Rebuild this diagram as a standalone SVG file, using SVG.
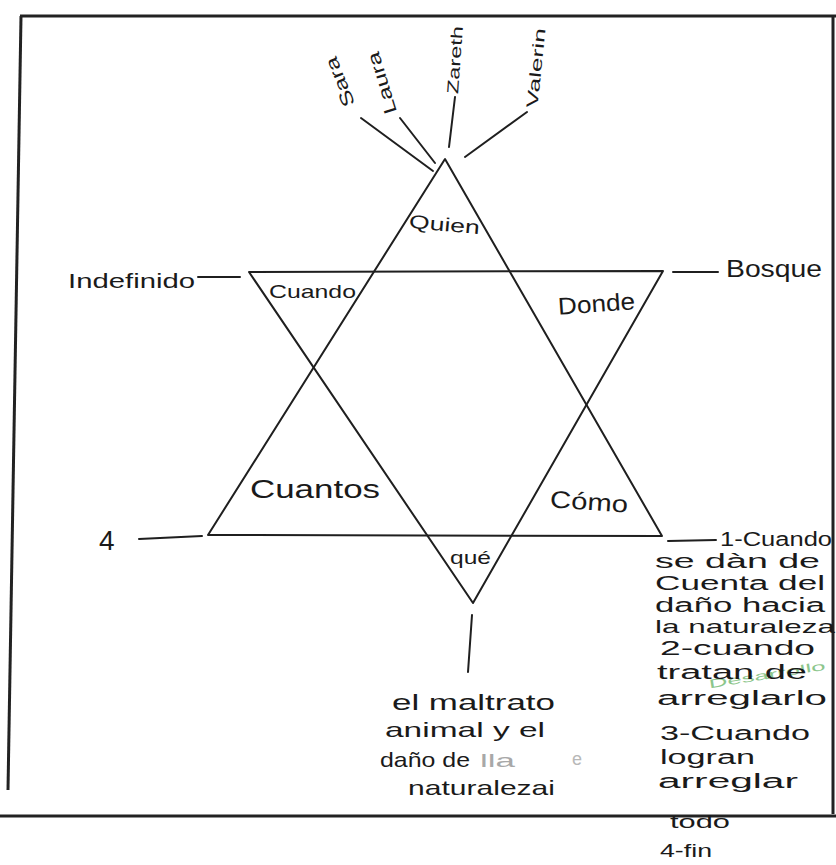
<svg xmlns="http://www.w3.org/2000/svg" width="836" height="865" viewBox="0 0 836 865">
<style>
.t{font-family:"Liberation Sans","DejaVu Sans",sans-serif;fill:#1a1a1a}
.r{font-size:20px}
.ln{stroke:#1f1f1f;stroke-width:2;fill:none;stroke-linecap:round;stroke-linejoin:round}
.bd{stroke:#222;stroke-width:3;fill:none}
</style>
<rect width="836" height="865" fill="#fff"/>
<g id="frame">
<line class="bd" x1="20" y1="16" x2="836" y2="16"/>
<line class="bd" x1="21" y1="16" x2="8" y2="790"/>
<line class="bd" x1="833" y1="16" x2="833" y2="814"/>
<line class="bd" x1="0" y1="816" x2="836" y2="816"/>
</g>
<g id="star">
<polygon id="triangle-up" class="ln" points="445,159 208,535 662,536"/>
<polygon id="triangle-down" class="ln" points="249,272 663,271 473,603"/>
</g>
<g id="connectors">
<line class="ln" x1="361" y1="118" x2="433" y2="171"/>
<line class="ln" x1="400" y1="118" x2="435" y2="163"/>
<line class="ln" x1="455" y1="97" x2="449" y2="147"/>
<line class="ln" x1="527" y1="112" x2="465" y2="157"/>
<line class="ln" x1="198" y1="277" x2="240" y2="277"/>
<line class="ln" x1="673" y1="272" x2="718" y2="272"/>
<line class="ln" x1="139" y1="539" x2="202" y2="536"/>
<line class="ln" x1="668" y1="541" x2="716" y2="540" stroke-width="3"/>
<line class="ln" x1="472" y1="615" x2="468" y2="672"/>
</g>
<g id="labels-inner">
<text id="quien" class="t" x="409" y="231" font-size="19" textLength="71" lengthAdjust="spacingAndGlyphs" transform="rotate(5 445 225)">Quien</text>
<text id="cuando" class="t" x="269" y="298" font-size="19" textLength="87" lengthAdjust="spacingAndGlyphs">Cuando</text>
<text id="donde" class="t" x="558" y="312" font-size="24" textLength="77" lengthAdjust="spacingAndGlyphs" transform="rotate(-4 597 305)">Donde</text>
<text id="cuantos" class="t" x="250" y="498" font-size="26" textLength="130" lengthAdjust="spacingAndGlyphs">Cuantos</text>
<text id="como" class="t" x="550" y="510" font-size="24" textLength="78" lengthAdjust="spacingAndGlyphs" transform="rotate(4 589 503)">Cómo</text>
<text id="que" class="t" x="450" y="564" font-size="19" textLength="41" lengthAdjust="spacingAndGlyphs">qué</text>
</g>
<g id="names">
<text class="t" x="340" y="82" font-size="18" text-anchor="middle" dominant-baseline="central" textLength="52" lengthAdjust="spacingAndGlyphs" transform="rotate(-112 340 82)">Sara</text>
<text class="t" x="382" y="83" font-size="18" text-anchor="middle" dominant-baseline="central" textLength="64" lengthAdjust="spacingAndGlyphs" transform="rotate(-107 382 83)">Laura</text>
<text class="t" x="455" y="60" font-size="16" text-anchor="middle" dominant-baseline="central" textLength="68" lengthAdjust="spacingAndGlyphs" transform="rotate(-86 455 60)">Zareth</text>
<text class="t" x="536" y="68" font-size="16" text-anchor="middle" dominant-baseline="central" textLength="80" lengthAdjust="spacingAndGlyphs" transform="rotate(-84 536 68)">Valerin</text>
</g>
<g id="indefinido"><text class="t" x="68" y="288" font-size="21" textLength="127" lengthAdjust="spacingAndGlyphs">Indefinido</text></g>
<g id="bosque"><text class="t" x="726" y="277" font-size="24" textLength="96" lengthAdjust="spacingAndGlyphs">Bosque</text></g>
<g id="cuatro"><text class="t" x="99" y="550" font-size="28">4</text></g>
<g id="que-answer">
<text class="t" x="392" y="710" font-size="22" textLength="163" lengthAdjust="spacingAndGlyphs">el maltrato</text>
<text class="t" x="385" y="737" font-size="21" textLength="160" lengthAdjust="spacingAndGlyphs">animal y el</text>
<text class="t" x="380" y="767" font-size="21" textLength="90" lengthAdjust="spacingAndGlyphs">daño de</text>
<text class="t" x="480" y="767" font-size="19" style="fill:#a8a8a8" textLength="35" lengthAdjust="spacingAndGlyphs">lla</text>
<text class="t" x="572" y="765" font-size="18" style="fill:#b8b8b8">e</text>
<text class="t" x="408" y="795" font-size="21" textLength="147" lengthAdjust="spacingAndGlyphs">naturalezai</text>
</g>
<g id="como-answer">
<text class="t r" x="720" y="546" textLength="112" lengthAdjust="spacingAndGlyphs">1-Cuando</text>
<text class="t r" x="655" y="568" textLength="165" lengthAdjust="spacingAndGlyphs">se dàn de</text>
<text class="t r" x="655" y="590" textLength="170" lengthAdjust="spacingAndGlyphs">Cuenta del</text>
<text class="t r" x="655" y="612" textLength="170" lengthAdjust="spacingAndGlyphs">daño hacia</text>
<text class="t" x="655" y="633" font-size="19" textLength="180" lengthAdjust="spacingAndGlyphs">la naturaleza</text>
<text class="t r" x="660" y="655" textLength="155" lengthAdjust="spacingAndGlyphs">2-cuando</text>
<text class="t" x="708" y="679" font-size="12" style="fill:#8cc68c" textLength="118" lengthAdjust="spacingAndGlyphs" transform="rotate(-9 767 674)">Desarrollo</text>
<text class="t r" x="657" y="679" textLength="150" lengthAdjust="spacingAndGlyphs">tratan de</text>
<text class="t r" x="657" y="705" textLength="170" lengthAdjust="spacingAndGlyphs">arreglarlo</text>
<text class="t r" x="660" y="740" textLength="150" lengthAdjust="spacingAndGlyphs">3-Cuando</text>
<text class="t r" x="660" y="764" textLength="95" lengthAdjust="spacingAndGlyphs">logran</text>
<text class="t r" x="658" y="788" textLength="140" lengthAdjust="spacingAndGlyphs">arreglar</text>
<text class="t" x="670" y="828" font-size="18" textLength="60" lengthAdjust="spacingAndGlyphs">todo</text>
<text class="t" x="660" y="857" font-size="19" textLength="52" lengthAdjust="spacingAndGlyphs">4-fin</text>
</g>
</svg>
